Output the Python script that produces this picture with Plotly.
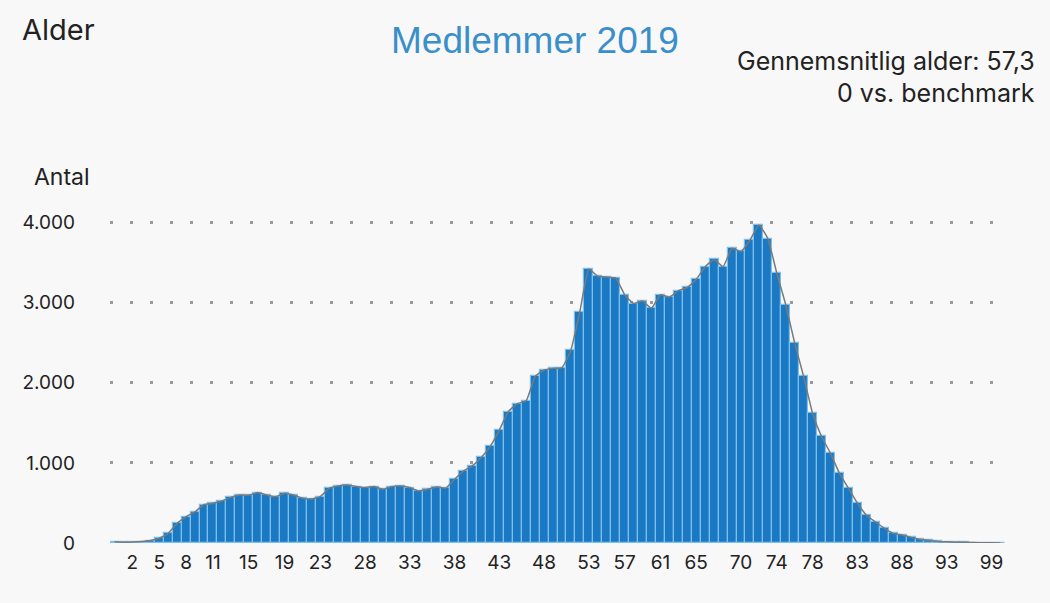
import plotly.graph_objects as go

ages = [a for a in range(0, 101) if a != 97]
counts = [15, 10, 12, 18, 30, 60, 120, 245, 330, 390,
          480, 495, 525, 570, 600, 595, 630, 600, 580, 620,
          600, 560, 550, 580, 685, 712, 725, 705, 692, 705,
          670, 705, 712, 692, 650, 670, 700, 683, 795, 900,
          965, 1070, 1210, 1410, 1640, 1740, 1775, 2080, 2160, 2180,
          2190, 2410, 2890, 3420, 3330, 3320, 3310, 3100, 2990, 3020,
          2930, 3100, 3070, 3150, 3190, 3290, 3450, 3540, 3450, 3680,
          3640, 3780, 3970, 3800, 3370, 2975, 2495, 2080, 1620, 1330,
          1120, 870, 685, 500, 350, 265, 185, 120, 100, 70,
          45, 35, 20, 15, 10, 8, 5, 3, 2, 1]
x_tick_labels = [2, 5, 8, 11, 15, 19, 23, 28, 33, 38, 43, 48, 53, 57, 61, 65, 70, 74, 78, 83, 88, 93, 99]
y_tick_vals = [0, 1000, 2000, 3000, 4000]
y_tick_text = ["0", "1.000", "2.000", "3.000", "4.000"]

cats = [str(a) for a in ages]

fig = go.Figure()
fig.add_trace(go.Bar(
    x=cats, y=counts,
    marker=dict(color="#1b79c4", line=dict(color="#7cc0ee", width=1.2)),
    hoverinfo="skip",
))
fig.add_trace(go.Scatter(
    x=cats, y=counts, mode="lines",
    line=dict(color="#7a7a7a", width=1.5, shape="spline", smoothing=0.4),
    cliponaxis=False, hoverinfo="skip",
))

W, H = 1050, 603
Y_MAX = 4020
L, R, B = 110, 45, 60
T = round(543 - 320 * Y_MAX / 4000)
pw = W - L - R
ph = H - T - B

def px(x):
    return (x - L) / pw

def py(y):
    return (H - B - y) / ph

fig.update_layout(
    width=W, height=H,
    margin=dict(l=L, r=R, t=T, b=B),
    paper_bgcolor="#f8f8f8", plot_bgcolor="#f8f8f8",
    showlegend=False, bargap=0,
    font=dict(family="Inter, Liberation Sans, sans-serif", color="#222222"),
    xaxis=dict(
        type="category", categoryorder="array", categoryarray=cats,
        tickmode="array", tickvals=[str(v) for v in x_tick_labels],
        ticktext=[str(v) for v in x_tick_labels],
        showgrid=False, showline=False, zeroline=False, ticks="",
        tickfont=dict(size=19, color="#222222"),
        ticklabelstandoff=6,
        range=[-0.5, len(cats) - 0.5],
    ),
    yaxis=dict(
        range=[0, Y_MAX],
        tickmode="array", tickvals=y_tick_vals, ticktext=y_tick_text,
        showgrid=True, gridcolor="#9a9a9a", gridwidth=2.5, griddash="3px,17px",
        zeroline=False, showline=False, ticks="",
        tickfont=dict(size=19, color="#222222"),
        ticklabelstandoff=34,
    ),
    annotations=[
        dict(text="Alder", x=px(20), y=py(30), xref="paper", yref="paper",
             xanchor="left", yanchor="middle", showarrow=False,
             font=dict(size=29, color="#222222")),
        dict(text="Medlemmer 2019", x=px(535), y=py(40), xref="paper", yref="paper",
             xanchor="center", yanchor="middle", showarrow=False,
             font=dict(size=37, color="#3a8fcb", family="Liberation Sans, Arial, sans-serif")),
        dict(text="Gennemsnitlig alder: 57,3", x=px(1037), y=py(61), xref="paper", yref="paper",
             xanchor="right", yanchor="middle", showarrow=False,
             font=dict(size=25, color="#222222")),
        dict(text="0 vs. benchmark", x=px(1037), y=py(93), xref="paper", yref="paper",
             xanchor="right", yanchor="middle", showarrow=False,
             font=dict(size=25, color="#222222")),
        dict(text="Antal", x=px(32), y=py(177), xref="paper", yref="paper",
             xanchor="left", yanchor="middle", showarrow=False,
             font=dict(size=23, color="#222222")),
    ],
)

fig.write_html(
    "out.html",
    config={"displayModeBar": False},
    post_script="document.body.style.margin='0';document.body.style.overflow='hidden';"
                "document.body.style.background='#f8f8f8';",
)
